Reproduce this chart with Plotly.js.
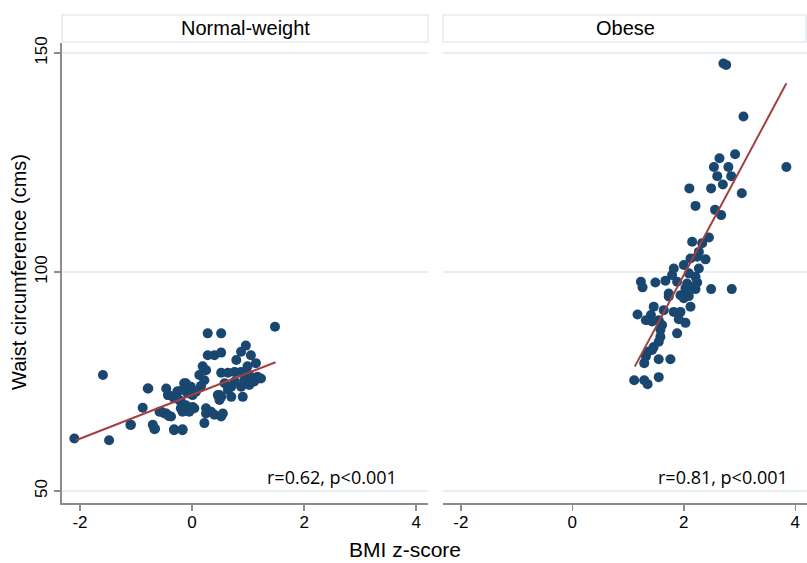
<!DOCTYPE html>
<html>
<head>
<meta charset="utf-8">
<script src="https://cdn.plot.ly/plotly-3.0.1.min.js"></script>
<style>html,body{margin:0;padding:0;background:#fff;}#chart{width:807px;height:563px;}</style>
</head>
<body>
<div id="chart"></div>
<script>
// ---- Data ----
const panelTitles = ["Normal-weight", "Obese"];
const statLabels = ["r=0.62, p<0.001", "r=0.81, p<0.001"];
const xTicks = [-2, 0, 2, 4];
const yTicks = [50, 100, 150];

const normalX = [-1.59,-2.10,-1.48,-1.10,-0.78,-0.88,-0.70,-0.66,-0.46,-0.42,-0.32,-0.17,-0.55,-0.46,-0.375,-0.26,-0.14,-0.23,-0.14,
  1.48,0.28,0.52,0.96,0.875,1.05,0.28,0.40,0.52,0.79,1.14,0.99,0.19,0.25,0.13,0.52,0.64,0.76,
  0.875,1.02,1.17,1.23,1.11,0.93,0.76,0.70,0.875,1.02,0.58,0.64,0.49,0.70,0.905,0.22,0.16,0.07,
  -0.11,-0.02,-0.17,-0.26,-0.08,0.01,-0.43,-0.32,-0.20,-0.11,0.01,-0.20,-0.08,0.04,-0.17,-0.05,
  -0.58,-0.49,-0.41,-0.79,0.25,0.34,0.25,0.40,0.52,0.55,0.22,0.46,0.52,0.49,-0.32,-0.17,-1.09,-0.67];
const normalY = [76.5,62.0,61.6,65.1,73.4,69.0,65.1,64.2,73.4,71.9,64.1,64.1,68.1,67.7,67.0,72.7,74.6,70.8,69.2,
  87.5,86.0,86.0,83.2,81.8,81.0,81.0,81.0,81.6,79.9,79.2,78.5,78.5,77.6,76.5,77.0,77.0,77.2,
  77.2,76.5,76.1,75.7,75.0,75.3,75.0,73.8,73.8,74.2,74.6,73.1,71.9,71.5,71.5,75.3,74.0,72.7,
  74.6,73.8,73.1,72.7,72.3,71.9,71.9,71.2,70.4,69.6,69.2,68.9,69.2,68.9,68.1,68.1,
  68.1,67.7,67.1,73.4,68.9,68.1,67.7,67.4,67.0,67.7,65.5,71.9,71.5,70.8,63.9,63.9,65.1,64.1];

const obeseX = [2.71,2.76,3.07,3.84,2.92,2.64,2.54,2.80,2.60,2.85,2.70,2.49,2.10,3.04,2.21,2.56,2.67,
  2.15,2.33,2.45,2.27,2.12,2.24,2.39,2.00,2.27,1.82,1.79,2.09,2.21,1.23,1.26,1.49,1.67,1.88,2.06,2.24,
  2.03,2.21,2.49,2.86,1.73,1.97,2.12,1.73,1.94,2.00,2.09,2.12,1.46,1.64,1.82,1.94,1.17,1.41,
  1.32,1.43,1.55,1.91,2.03,1.61,1.58,1.88,1.58,1.55,1.46,1.43,1.35,1.32,1.55,1.76,1.29,
  1.11,1.29,1.35,1.55];
const obeseY = [147.6,147.3,135.5,124.0,126.9,126.0,124.0,124.0,121.9,121.9,120.0,119.1,119.1,118.0,115.1,114.2,113.0,
  106.9,106.6,107.9,104.6,103.1,103.5,102.9,101.6,100.8,100.8,99.3,99.7,98.9,97.8,96.5,97.6,98.0,97.8,97.4,97.6,
  96.3,96.1,96.1,96.1,95.1,94.7,96.6,94.4,94.7,94.0,94.5,92.1,92.1,91.3,90.9,90.9,90.3,90.2,
  89.0,88.7,89.0,89.2,88.4,87.9,86.8,86.0,85.2,84.1,82.9,82.2,81.8,80.7,80.1,80.1,79.2,
  75.3,75.3,74.4,76.0];

const fitNormalX = [-2.07, 1.49];
const fitNormalY = [61.6, 79.4];
const fitObeseX = [1.12, 3.84];
const fitObeseY = [78.4, 143.1];

// ---- Styling ----
const W = 807, H = 563;
const fx = p => p / W;
const fy = p => 1 - p / H;
const navy = "#1a476f";
const maroon = "#a3403f";
const grid = "#e6eff1";
const axisCol = "#8c8c8c";
const sans = "Liberation Sans, Arial, sans-serif";
const tickFont = {family: sans, size: 17, color: "#000"};

const markerStyle = {color: navy, size: 10, line: {width: 0}};
const traces = [
  {x: normalX, y: normalY, type: "scatter", mode: "markers", marker: markerStyle, xaxis: "x", yaxis: "y"},
  {x: fitNormalX, y: fitNormalY, type: "scatter", mode: "lines", line: {color: maroon, width: 2}, xaxis: "x", yaxis: "y"},
  {x: obeseX, y: obeseY, type: "scatter", mode: "markers", marker: markerStyle, xaxis: "x2", yaxis: "y2"},
  {x: fitObeseX, y: fitObeseY, type: "scatter", mode: "lines", line: {color: maroon, width: 2}, xaxis: "x2", yaxis: "y2"}
];

const xRange = [-2.32, 4.21];
const yRange = [47.26, 152.3];
const xCommon = {
  range: xRange, tickvals: xTicks, ticktext: xTicks.map(String),
  showgrid: false, zeroline: false, showline: true, linecolor: axisCol, linewidth: 2,
  ticks: "outside", ticklen: 6, tickcolor: axisCol, tickwidth: 1.5, tickfont: tickFont,
  ticklabelstandoff: -3, fixedrange: true
};
const layout = {
  width: W, height: H,
  margin: {l: 0, r: 0, t: 0, b: 0},
  paper_bgcolor: "#fff", plot_bgcolor: "#fff",
  showlegend: false,
  xaxis: Object.assign({}, xCommon, {domain: [fx(62), fx(428)], anchor: "y"}),
  xaxis2: Object.assign({}, xCommon, {domain: [fx(443), 1], anchor: "y2"}),
  yaxis: {
    domain: [fy(503), fy(43)], range: yRange, tickvals: yTicks, ticktext: yTicks.map(String),
    showgrid: true, gridcolor: grid, gridwidth: 1.5, zeroline: false,
    showline: true, linecolor: axisCol, linewidth: 2,
    ticks: "outside", ticklen: 6, tickcolor: axisCol, tickwidth: 1.5,
    tickfont: tickFont, tickangle: -90, anchor: "x", fixedrange: true
  },
  yaxis2: {
    domain: [fy(503), fy(43)], range: yRange, tickvals: yTicks,
    showgrid: true, gridcolor: grid, gridwidth: 1.5, zeroline: false,
    showline: false, showticklabels: false, ticks: "", anchor: "x2", fixedrange: true
  },
  shapes: [
    {type: "rect", xref: "paper", yref: "paper", x0: fx(62), x1: fx(428), y0: fy(42), y1: fy(15),
     line: {color: "#e3edf0", width: 1.5}, fillcolor: "#fff"},
    {type: "rect", xref: "paper", yref: "paper", x0: fx(443), x1: fx(806), y0: fy(42), y1: fy(15),
     line: {color: "#e3edf0", width: 1.5}, fillcolor: "#fff"}
  ],
  annotations: [
    {text: panelTitles[0], xref: "paper", yref: "paper", x: fx(245), y: fy(28.5), showarrow: false,
     xanchor: "center", yanchor: "middle", font: {family: sans, size: 20, color: "#000"}},
    {text: panelTitles[1], xref: "paper", yref: "paper", x: fx(625), y: fy(28.5), showarrow: false,
     xanchor: "center", yanchor: "middle", font: {family: sans, size: 20, color: "#000"}},
    {text: statLabels[0], xref: "paper", yref: "paper", x: fx(332), y: fy(477), showarrow: false,
     xanchor: "center", yanchor: "middle", font: {family: "Open Sans, sans-serif", size: 18, color: "#000"}},
    {text: statLabels[1], xref: "paper", yref: "paper", x: fx(723), y: fy(477), showarrow: false,
     xanchor: "center", yanchor: "middle", font: {family: "Open Sans, sans-serif", size: 18, color: "#000"}},
    {text: "BMI z-score", xref: "paper", yref: "paper", x: fx(405), y: fy(549), showarrow: false,
     xanchor: "center", yanchor: "middle", font: {family: sans, size: 21, color: "#000"}},
    {text: "Waist circumference (cms)", xref: "paper", yref: "paper", x: fx(19), y: fy(272), showarrow: false,
     textangle: -90, xanchor: "center", yanchor: "middle", font: {family: sans, size: 20, color: "#000"}}
  ]
};
Plotly.newPlot("chart", traces, layout, {displayModeBar: false, staticPlot: true});
</script>
</body>
</html>
